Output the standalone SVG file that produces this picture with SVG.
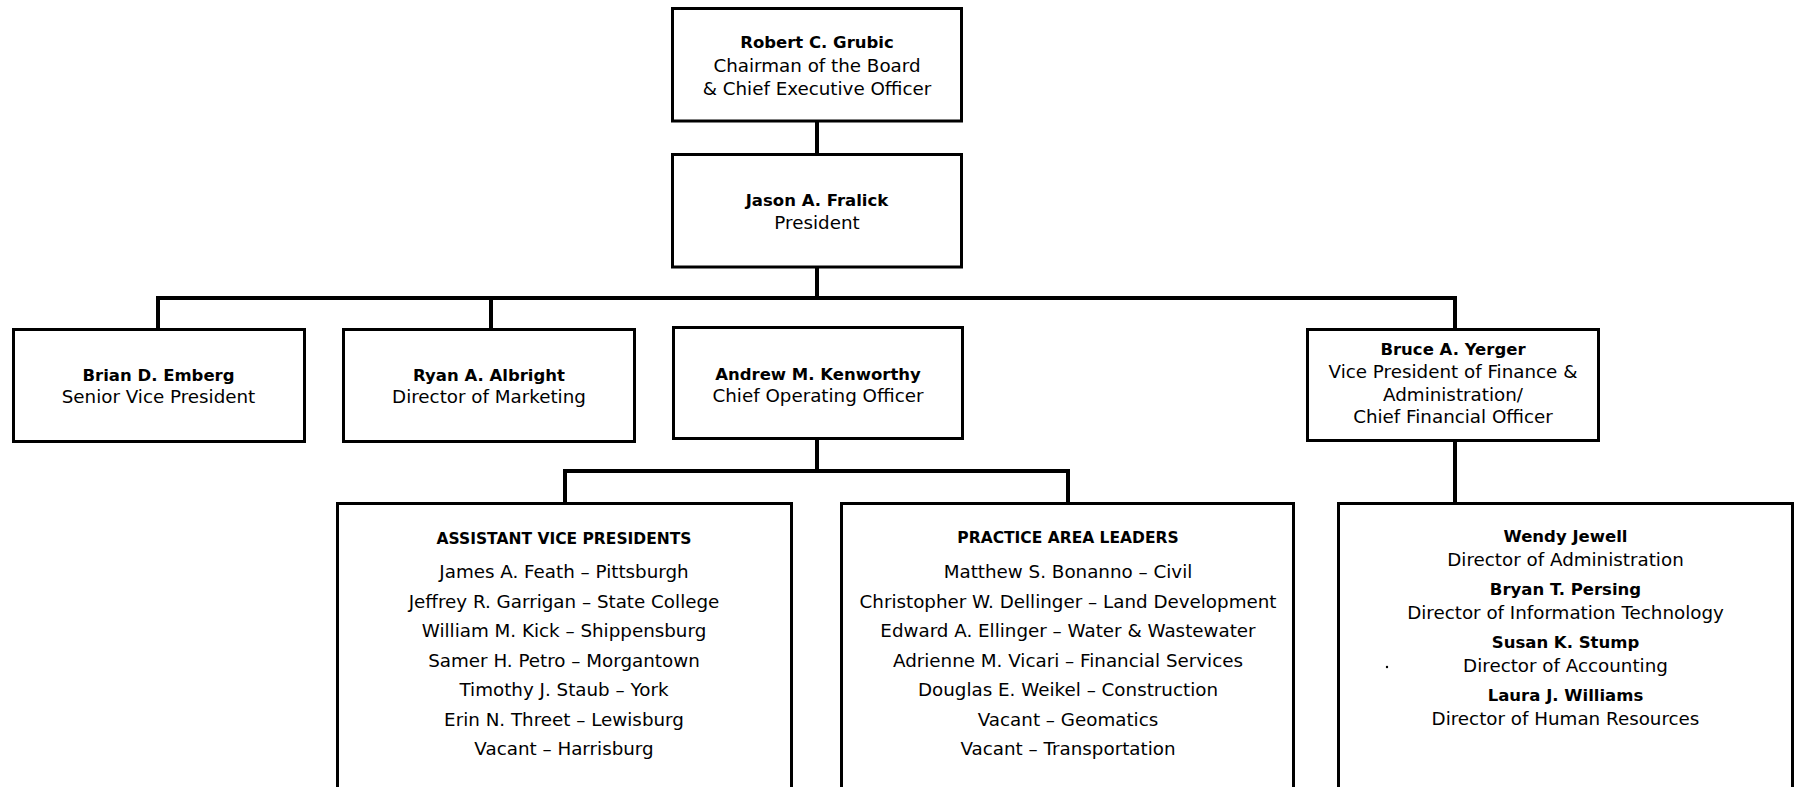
<svg xmlns="http://www.w3.org/2000/svg" width="1801" height="787" viewBox="0 0 1801 787">
<style>
.box{fill:#fff;stroke:#000;stroke-width:3}
.ln{fill:none;stroke:#000;stroke-width:4;stroke-linecap:square}
text{font-family:"DejaVu Sans","Liberation Sans",sans-serif;fill:#000;text-anchor:middle}
.n{font-weight:bold;font-size:16.5px}
.t{font-size:18.3px}
.h{font-weight:bold;font-size:15.5px}
</style>
<rect width="1801" height="787" fill="#fff"/>
<g id="connectors">
<path class="ln" d="M817 122V154M817 268V298M158 298H1455M158 298V329M491 298V329M1455 298V329M817 439V471M565 471H1068M565 471V503M1068 471V503M1455 441V505"/>
</g>
<g id="ceo">
<rect class="box" x="672.5" y="8.5" width="289" height="112.5"/>
<text class="n" x="817" y="48">Robert C. Grubic</text>
<text class="t" x="817" y="71.5">Chairman of the Board</text>
<text class="t" x="817" y="95">&amp; Chief Executive Officer</text>
</g>
<g id="president">
<rect class="box" x="672.5" y="154.5" width="289" height="112.5"/>
<text class="n" x="817" y="206">Jason A. Fralick</text>
<text class="t" x="817" y="229">President</text>
</g>
<g id="emberg">
<rect class="box" x="13.5" y="329.5" width="291" height="112"/>
<text class="n" x="158.5" y="381">Brian D. Emberg</text>
<text class="t" x="158.5" y="402.5">Senior Vice President</text>
</g>
<g id="albright">
<rect class="box" x="343.5" y="329.5" width="291" height="112"/>
<text class="n" x="489" y="381">Ryan A. Albright</text>
<text class="t" x="489" y="402.5">Director of Marketing</text>
</g>
<g id="kenworthy">
<rect class="box" x="673.5" y="327.5" width="289" height="111"/>
<text class="n" x="818" y="380">Andrew M. Kenworthy</text>
<text class="t" x="818" y="401.5">Chief Operating Officer</text>
</g>
<g id="yerger">
<rect class="box" x="1307.5" y="329.5" width="291" height="111"/>
<text class="n" x="1453" y="355">Bruce A. Yerger</text>
<text class="t" x="1453" y="378">Vice President of Finance &amp;</text>
<text class="t" x="1453" y="400.5">Administration/</text>
<text class="t" x="1453" y="423">Chief Financial Officer</text>
</g>
<g id="avp">
<rect class="box" x="337.5" y="503.5" width="454" height="310"/>
<text class="h" x="564" y="544">ASSISTANT VICE PRESIDENTS</text>
<text class="t" x="564" y="578">James A. Feath – Pittsburgh</text>
<text class="t" x="564" y="607.5">Jeffrey R. Garrigan – State College</text>
<text class="t" x="564" y="637">William M. Kick – Shippensburg</text>
<text class="t" x="564" y="666.5">Samer H. Petro – Morgantown</text>
<text class="t" x="564" y="696">Timothy J. Staub – York</text>
<text class="t" x="564" y="725.5">Erin N. Threet – Lewisburg</text>
<text class="t" x="564" y="755">Vacant – Harrisburg</text>
</g>
<g id="pal">
<rect class="box" x="841.5" y="503.5" width="452" height="310"/>
<text class="h" x="1068" y="543">PRACTICE AREA LEADERS</text>
<text class="t" x="1068" y="578">Matthew S. Bonanno – Civil</text>
<text class="t" x="1068" y="607.5">Christopher W. Dellinger – Land Development</text>
<text class="t" x="1068" y="637">Edward A. Ellinger – Water &amp; Wastewater</text>
<text class="t" x="1068" y="666.5">Adrienne M. Vicari – Financial Services</text>
<text class="t" x="1068" y="696">Douglas E. Weikel – Construction</text>
<text class="t" x="1068" y="725.5">Vacant – Geomatics</text>
<text class="t" x="1068" y="755">Vacant – Transportation</text>
</g>
<g id="finance-staff">
<rect class="box" x="1338.5" y="503.5" width="454" height="310"/>
<text class="n" x="1565.5" y="542">Wendy Jewell</text>
<text class="t" x="1565.5" y="566">Director of Administration</text>
<text class="n" x="1565.5" y="595">Bryan T. Persing</text>
<text class="t" x="1565.5" y="619">Director of Information Technology</text>
<text class="n" x="1565.5" y="648">Susan K. Stump</text>
<text class="t" x="1565.5" y="671.5">Director of Accounting</text>
<text class="n" x="1565.5" y="701">Laura J. Williams</text>
<text class="t" x="1565.5" y="724.5">Director of Human Resources</text>
<circle cx="1387" cy="667" r="1.2" fill="#000"/>
</g>
</svg>
